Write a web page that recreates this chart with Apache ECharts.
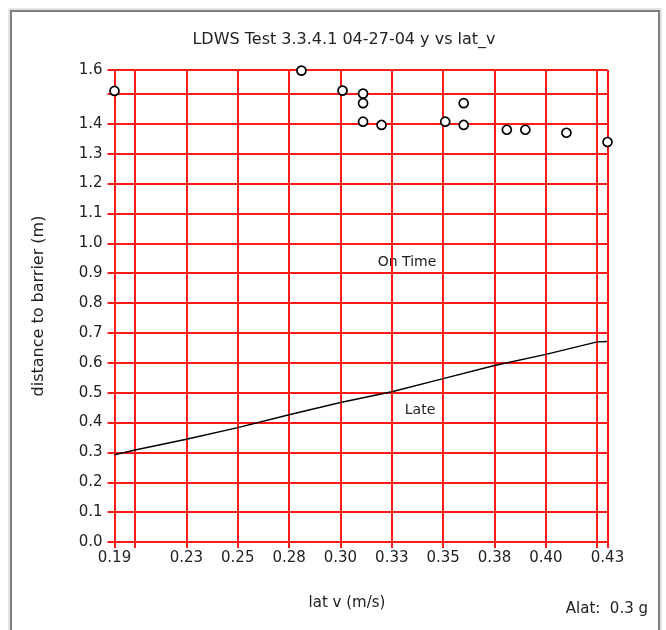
<!DOCTYPE html>
<html>
<head>
<meta charset="utf-8">
<script src="https://cdn.jsdelivr.net/npm/echarts@6/dist/echarts.min.js"></script>
<style>html,body{margin:0;padding:0;background:#fff}#c{width:666px;height:630px}</style>
</head>
<body>
<div id="c"></div>
<script>
// ---- data ----
const titleText = 'LDWS Test 3.3.4.1 04-27-04 y vs lat_v';
const xName = 'lat v (m/s)';
const yName = 'distance to barrier (m)';
const noteText = 'Alat:  0.3 g';
const onTimeText = 'On Time';
const lateText = 'Late';

const scatterX = [0.190, 0.281, 0.301, 0.311, 0.311, 0.311, 0.320, 0.351, 0.360, 0.360, 0.381, 0.390, 0.410, 0.430];
const scatterY = [1.510, 1.578, 1.511, 1.501, 1.469, 1.407, 1.396, 1.407, 1.469, 1.396, 1.380, 1.380, 1.370, 1.339];

const lateX = [0.190, 0.200, 0.225, 0.250, 0.275, 0.300, 0.325, 0.350, 0.375, 0.400, 0.425, 0.430];
const lateY = [0.292, 0.308, 0.344, 0.383, 0.426, 0.467, 0.503, 0.547, 0.591, 0.628, 0.670, 0.671];

const xMin = 0.19, xMax = 0.43;
const xTickValues = [0.19, 0.2, 0.225, 0.25, 0.275, 0.3, 0.325, 0.35, 0.375, 0.4, 0.425, 0.43];
const xLabelValues = [0.19, 0.225, 0.25, 0.275, 0.3, 0.325, 0.35, 0.375, 0.4, 0.43];
const xLabelTexts = ['0.19', '0.23', '0.25', '0.28', '0.30', '0.33', '0.35', '0.38', '0.40', '0.43'];

const yMin = 0, yMax = 1.58;
const yTickValues = [0, 0.1, 0.2, 0.3, 0.4, 0.5, 0.6, 0.7, 0.8, 0.9, 1.0, 1.1, 1.2, 1.3, 1.4, 1.5, 1.58];
const yLabelValues = [0, 0.1, 0.2, 0.3, 0.4, 0.5, 0.6, 0.7, 0.8, 0.9, 1.0, 1.1, 1.2, 1.3, 1.4, 1.58];
const yLabelTexts = ['0.0', '0.1', '0.2', '0.3', '0.4', '0.5', '0.6', '0.7', '0.8', '0.9', '1.0', '1.1', '1.2', '1.3', '1.4', '1.6'];

// ---- chart ----
const FONT = 'DejaVu Sans';
const RED = '#ff1a1a';
function lookup(vals, texts, v) {
  for (let i = 0; i < vals.length; i++) if (Math.abs(vals[i] - v) < 1e-6) return texts[i];
  return '';
}
const chart = echarts.init(document.getElementById('c'), null, {renderer: 'canvas'});
chart.setOption({
  animation: false,
  backgroundColor: '#fff',
  textStyle: {fontFamily: FONT},
  grid: {left: 114.5, right: 58.5, top: 70, bottom: 88, containLabel: false},
  xAxis: {
    type: 'value', min: xMin, max: xMax,
    axisLine: {show: true, onZero: false, lineStyle: {color: RED, width: 2}},
    axisTick: {show: true, inside: false, length: 6, customValues: xTickValues, lineStyle: {color: RED, width: 2}},
    axisLabel: {customValues: xLabelValues, margin: 9, fontFamily: FONT, fontSize: 15, color: '#222',
      formatter: v => lookup(xLabelValues, xLabelTexts, v), showMinLabel: true, showMaxLabel: true, hideOverlap: false},
    splitLine: {show: true, lineStyle: {color: RED, width: 2}}
  },
  yAxis: {
    type: 'value', min: yMin, max: yMax,
    name: yName, nameLocation: 'middle', nameGap: 68, nameRotate: 90,
    nameTextStyle: {fontFamily: FONT, fontSize: 16, color: '#222'},
    axisLine: {show: true, onZero: false, lineStyle: {color: RED, width: 2}},
    axisTick: {show: true, inside: false, length: 7, customValues: yTickValues, lineStyle: {color: RED, width: 2}},
    axisLabel: {customValues: yLabelValues, margin: 12, fontFamily: FONT, fontSize: 15, color: '#222',
      formatter: v => lookup(yLabelValues, yLabelTexts, v), showMinLabel: true, showMaxLabel: true, hideOverlap: false},
    splitLine: {show: true, lineStyle: {color: RED, width: 2}}
  },
  series: [
    {
      type: 'line', data: lateX.map((x, i) => [x, lateY[i]]),
      showSymbol: false, symbol: 'none', lineStyle: {color: '#000', width: 1.4}, z: 3
    },
    {
      type: 'scatter', data: scatterX.map((x, i) => [x, scatterY[i]]),
      symbol: 'circle', symbolSize: 9,
      itemStyle: {color: '#fff', borderColor: '#000', borderWidth: 1.7, opacity: 1}, z: 4
    }
  ],
  graphic: [
    {type: 'rect', shape: {x: 9, y: 9, width: 652, height: 640}, style: {fill: 'none', stroke: '#c8c8c8', lineWidth: 1}, silent: true},
    {type: 'rect', shape: {x: 11, y: 11, width: 648, height: 640}, style: {fill: 'none', stroke: '#808080', lineWidth: 2}, silent: true},
    {type: 'text', x: 344, y: 40, style: {text: titleText, fontFamily: FONT, fontSize: 16, fill: '#222', align: 'center', verticalAlign: 'middle'}},
    {type: 'text', x: 347, y: 603, style: {text: xName, fontFamily: FONT, fontSize: 15, fill: '#222', align: 'center', verticalAlign: 'middle'}},
    {type: 'text', x: 407, y: 262, style: {text: onTimeText, fontFamily: FONT, fontSize: 14, fill: '#222', align: 'center', verticalAlign: 'middle'}},
    {type: 'text', x: 420, y: 410, style: {text: lateText, fontFamily: FONT, fontSize: 14, fill: '#222', align: 'center', verticalAlign: 'middle'}},
    {type: 'text', x: 648, y: 609, style: {text: noteText, fontFamily: FONT, fontSize: 15, fill: '#222', align: 'right', verticalAlign: 'middle'}}
  ]
});
</script>
</body>
</html>
